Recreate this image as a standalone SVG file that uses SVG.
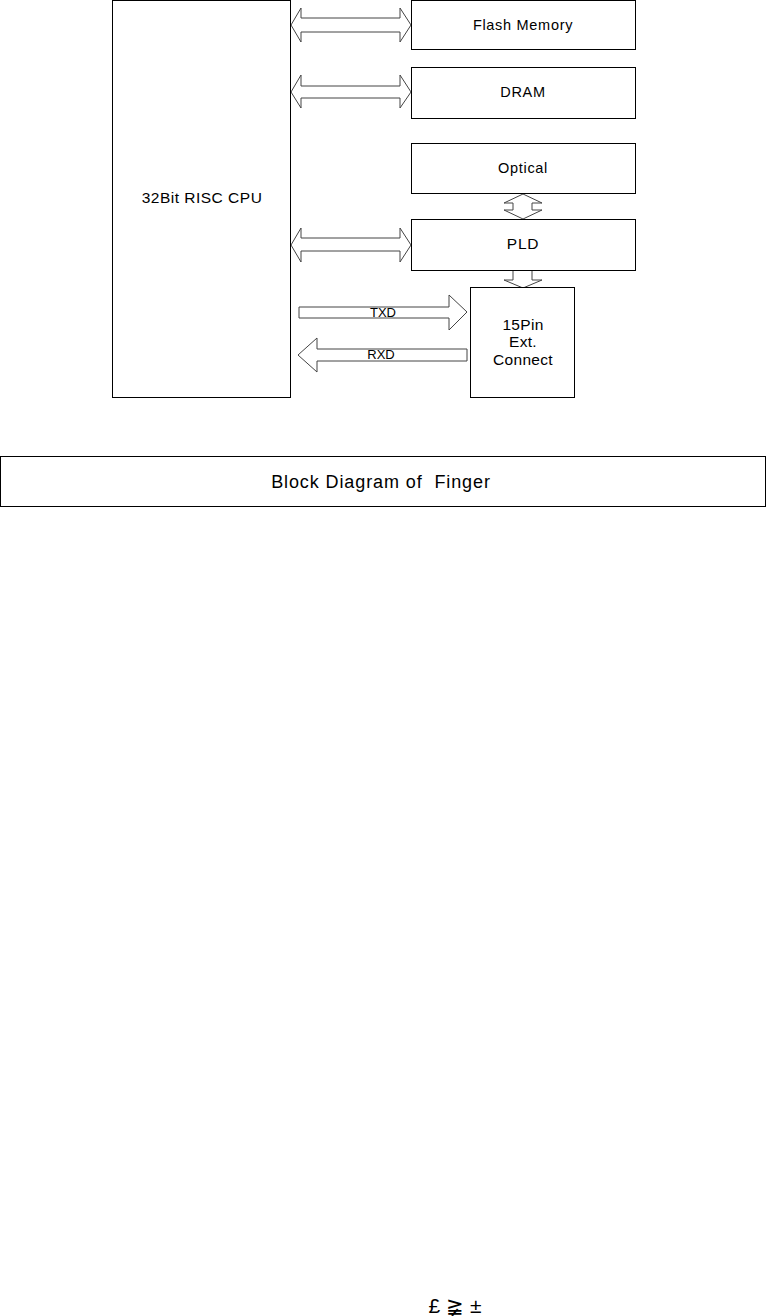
<svg xmlns="http://www.w3.org/2000/svg" width="766" height="1316" viewBox="0 0 766 1316">
<style>
.box{fill:#fff;stroke:#000;stroke-width:1}
.arr{fill:#fff;stroke:#444;stroke-width:1;stroke-linejoin:miter}
.t{font-family:"Liberation Sans",Arial,sans-serif;fill:#000;text-anchor:middle}
.n{font-size:14.5px;letter-spacing:0.7px}
.s{font-size:13px}
</style>
<rect width="766" height="1316" fill="#fff"/>
<g id="connectors">
<polygon class="arr" points="291,25 301,8 301,18 400,18 400,8 411,25 400,42 400,32 301,32 301,42"/>
<polygon class="arr" points="291,92 301,75 301,86 400,86 400,75 411,92 400,108 400,98 301,98 301,108"/>
<polygon class="arr" points="291,245 301,228 301,238 400,238 400,228 411,245 400,262 400,251 301,251 301,262"/>
<polygon class="arr" points="523,194 542,203 532,203 532,210 542,210 523,219 504,210 513,210 513,203 504,203"/>
<polygon class="arr" points="513,270 532,270 532,280 542,280 523,288 504,280 513,280"/>
<polygon class="arr" points="299,307 449,307 449,295 467,312 449,330 449,318 299,318"/>
<polygon class="arr" points="467,349 317,349 317,338 298,355 317,372 317,361 467,361"/>
<text class="t s" x="383" y="317">TXD</text>
<text class="t s" x="381" y="359">RXD</text>
</g>
<g id="cpu">
<rect class="box" x="112.5" y="0.5" width="178" height="397"/>
<text class="t" style="font-size:15.5px;letter-spacing:0.5px" x="202" y="203">32Bit RISC CPU</text>
</g>
<g id="flash">
<rect class="box" x="411.5" y="0.5" width="224" height="49"/>
<text class="t n" x="523" y="30">Flash Memory</text>
</g>
<g id="dram">
<rect class="box" x="411.5" y="67.5" width="224" height="51"/>
<text class="t n" x="523" y="97">DRAM</text>
</g>
<g id="optical">
<rect class="box" x="411.5" y="143.5" width="224" height="50"/>
<text class="t n" x="523" y="173">Optical</text>
</g>
<g id="pld">
<rect class="box" x="411.5" y="219.5" width="224" height="51"/>
<text class="t" style="font-size:15.5px;letter-spacing:0.7px" x="523" y="249">PLD</text>
</g>
<g id="connector15">
<rect class="box" x="470.5" y="287.5" width="104" height="110"/>
<text class="t" style="font-size:15.5px;letter-spacing:0.3px" x="523" y="330">15Pin</text>
<text class="t" style="font-size:15.5px;letter-spacing:0.3px" x="523" y="347">Ext.</text>
<text class="t" style="font-size:15.5px;letter-spacing:0.3px" x="523" y="365">Connect</text>
</g>
<g id="title">
<rect class="box" x="0.5" y="456.5" width="765" height="50"/>
<text class="t" style="font-size:18px;letter-spacing:0.9px" x="381" y="488" xml:space="preserve">Block Diagram of  Finger</text>
</g>
<g id="footer">
<text class="t" style="font-size:21px" x="455" y="1313" xml:space="preserve">£ ≩ ±</text>
</g>
</svg>
